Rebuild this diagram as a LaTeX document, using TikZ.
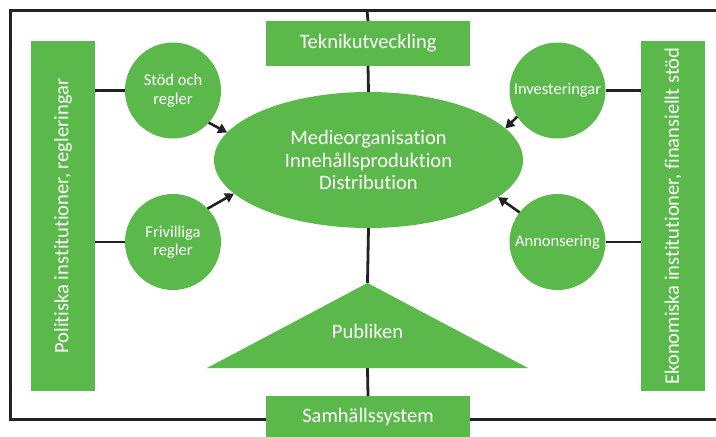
\documentclass[tikz,border=0pt]{standalone}
\usepackage{fontspec}
\setmainfont{Carlito}[Ligatures={NoCommon,NoDiscretionary,NoRare}]
\usetikzlibrary{shapes.geometric,arrows.meta}
\definecolor{grn}{HTML}{5AB94A}
\definecolor{frm}{HTML}{222222}
\begin{document}
\begin{tikzpicture}[x=1pt,y=-1pt,
  lnk/.style={line width=2.8pt,draw=frm},
  arr/.style={line width=2.6pt,draw=frm,-{Triangle[length=9pt,width=10pt]}},
  gbox/.style={fill=grn,text=white,inner sep=0pt,outer sep=0pt},
  circ/.style={gbox,circle,minimum size=96pt,font=\fontsize{16.5}{18.5}\selectfont,align=center},
  txt/.style={text=white,font=\fontsize{20.5}{22.5}\selectfont,align=center}]
\useasboundingbox (0,0) rectangle (716,437);
% frame
\coordinate (ftop) at (367,10);
\draw[line width=3pt,draw=frm] (720,10) -- (10,10) -- (10,419) -- (720,419);
% bars
\node[gbox,minimum width=64pt,minimum height=350pt] (pol) at (63,216) {};
\node[txt,rotate=90] at (pol.center) {Politiska institutioner, regleringar};
\node[gbox,minimum width=64pt,minimum height=350pt] (eko) at (673,216) {};
\node[txt,rotate=90] at (eko.center) {Ekonomiska institutioner, finansiellt stöd};
% center elements
\node[gbox,ellipse,minimum width=309pt,minimum height=136pt] (med) at (368.5,160) {};
\node[gbox,minimum width=204pt,minimum height=45pt] (tek) at (368,43.5) {};
\node[gbox,minimum width=204pt,minimum height=42pt] (sam) at (368,417) {};
\coordinate (apex) at (367.5,283);
\coordinate (base) at (367.5,368);
\draw[lnk] (ftop) -- (tek.north);
\draw[lnk] (tek.south) -- (med.north);
\draw[lnk] (med.south) -- (apex);
\draw[lnk] (base) -- (sam.north);
\fill[grn] (apex) -- (528,368) -- (207,368) -- cycle;
\node[txt] (pub) at (367.5,331) {Publiken};
\node[txt] at (tek.center) {Teknikutveckling};
\node[txt] at (sam.center) {Samhällssystem};
\node[txt] at (med.center) {Medieorganisation\\Innehållsproduktion\\Distribution};
% circles
\node[circ] (stod) at (173,90.5) {Stöd och\\regler};
\node[circ] (friv) at (173,242) {Frivilliga\\regler};
\node[circ] (inv) at (557.5,90.5) {Investeringar};
\node[circ] (ann) at (557.5,242) {Annonsering};
\draw[lnk] (pol.east |- stod.west) -- (stod.west);
\draw[lnk] (pol.east |- friv.west) -- (friv.west);
\draw[lnk] (inv.east) -- (eko.west |- inv.east);
\draw[lnk] (ann.east) -- (eko.west |- ann.east);
% arrows
\draw[arr] (stod.-42) -- (med.169.3);
\draw[arr] (friv.44) -- (med.194.2);
\draw[arr] (inv.213.7) -- (med.13.8);
\draw[arr] (ann.142) -- (med.-16.4);
\end{tikzpicture}
\end{document}
